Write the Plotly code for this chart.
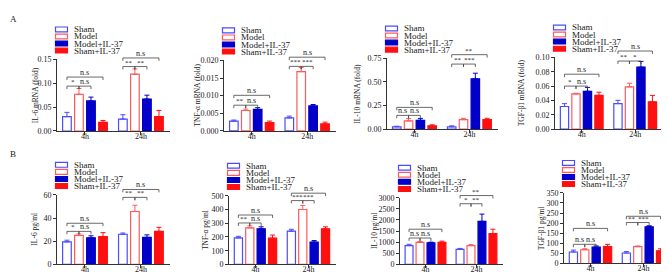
import plotly.graph_objects as go

# ---------------- data ----------------
groups = ["4h", "24h"]
series = ["Sham", "Model", "Model+IL-37", "Sham+IL-37"]

# each inner list = one series, values at [4h, 24h]
il6_mrna_mean = [[0.030, 0.025], [0.077, 0.119], [0.063, 0.067], [0.018, 0.030]]
il6_mrna_err = [[0.009, 0.009], [0.012, 0.011], [0.008, 0.008], [0.004, 0.013]]
tnf_mrna_mean = [[0.0028, 0.0037], [0.0058, 0.0168], [0.0061, 0.0071], [0.0024, 0.0020]]
tnf_mrna_err = [[0.0003, 0.0005], [0.0004, 0.0012], [0.0005, 0.0004], [0.0004, 0.0005]]
il10_mrna_mean = [[0.024, 0.024], [0.086, 0.100], [0.093, 0.534], [0.034, 0.100]]
il10_mrna_err = [[0.006, 0.010], [0.025, 0.014], [0.020, 0.059], [0.011, 0.014]]
tgf_mrna_mean = [[0.0315, 0.0356], [0.049, 0.059], [0.0527, 0.0865], [0.047, 0.038]]
tgf_mrna_err = [[0.004, 0.0045], [0.001, 0.005], [0.0055, 0.008], [0.0045, 0.009]]
il6_pg_mean = [[19.5, 26.0], [25.0, 45.6], [23.0, 23.3], [23.9, 28.5]]
il6_pg_err = [[1.4, 1.1], [1.3, 5.4], [1.7, 2.2], [3.5, 3.5]]
tnf_pg_mean = [[193, 242], [267, 400], [260, 163], [191, 260]]
tnf_pg_err = [[12, 14], [14, 30], [14, 11], [23, 14]]
il10_pg_mean = [[849, 679], [990, 849], [976, 1938], [990, 1386]]
il10_pg_err = [[56, 42], [43, 42], [28, 325], [57, 198]]
tgf_pg_mean = [[57, 52], [68, 84], [81, 182], [84, 63]]
tgf_pg_err = [[9.5, 7], [5, 3], [6, 5], [11, 10]]

y_titles = ["IL-6 mRNA (fold)", "TNF-α mRNA (fold)", "IL-10 mRNA (fold)", "TGF-β1 mRNA (fold)",
            "IL-6 pg/ml", "TNF-α pg/ml", "IL-10 pg/ml", "TGF-β1 pg/ml"]
y_max = [0.15, 0.020, 0.75, 0.10, 60, 500, 3000, 350]
y_dtick = [0.05, 0.005, 0.25, 0.02, 20, 100, 500, 50]
y_fmt = [".2f", ".3f", ".2f", ".2f", "d", "d", "d", "d"]

# significance brackets: (group index, series i, series j, level, label)
il6_mrna_sig = [(0, 0, 3, 0.113, "n.s"), (0, 0, 1, 0.094, "*"), (0, 1, 2, 0.094, "n.s"),
                (1, 0, 3, 0.153, "n.s"), (1, 0, 1, 0.135, "**"), (1, 1, 2, 0.135, "**")]
tnf_mrna_sig = [(0, 0, 3, 0.0101, "n.s"), (0, 0, 1, 0.0073, "**"), (0, 1, 2, 0.0073, "n.s"),
                (1, 0, 3, 0.0209, "n.s"), (1, 0, 1, 0.0183, "***"), (1, 1, 2, 0.0183, "***")]
il10_mrna_sig = [(0, 0, 3, 0.23, "n.s"), (0, 0, 1, 0.145, "n.s"), (0, 1, 2, 0.145, "n.s"),
                 (1, 0, 3, 0.79, "**"), (1, 0, 1, 0.69, "**"), (1, 1, 2, 0.69, "***")]
tgf_mrna_sig = [(0, 0, 3, 0.0766, "n.s"), (0, 0, 1, 0.060, "*"), (0, 1, 2, 0.060, "n.s"),
                (1, 0, 3, 0.109, "n.s"), (1, 0, 1, 0.095, "**"), (1, 1, 2, 0.095, "*")]
il6_pg_sig = [(0, 0, 3, 35.5, "n.s"), (0, 0, 1, 28.5, "*"), (0, 1, 2, 28.5, "n.s"),
              (1, 0, 3, 64.6, "n.s"), (1, 0, 1, 57.8, "**"), (1, 1, 2, 57.8, "**")]
tnf_pg_sig = [(0, 0, 3, 360, "n.s"), (0, 0, 1, 302, "**"), (0, 1, 2, 302, "n.s"),
              (1, 0, 3, 519, "n.s"), (1, 0, 1, 465, "***"), (1, 1, 2, 465, "***")]
il10_pg_sig = [(0, 0, 3, 1584, "n.s"), (0, 0, 1, 1188, "n.s"), (0, 1, 2, 1188, "n.s"),
               (1, 0, 3, 3097, "**"), (1, 0, 1, 2730, "*"), (1, 1, 2, 2730, "**")]
tgf_pg_sig = [(0, 0, 3, 174, "n.s"), (0, 0, 1, 95, "n.s"), (0, 1, 2, 95, "n.s"),
              (1, 0, 3, 234, "n.s"), (1, 0, 1, 203, "**"), (1, 1, 2, 203, "***")]

means = [il6_mrna_mean, tnf_mrna_mean, il10_mrna_mean, tgf_mrna_mean,
         il6_pg_mean, tnf_pg_mean, il10_pg_mean, tgf_pg_mean]
errs = [il6_mrna_err, tnf_mrna_err, il10_mrna_err, tgf_mrna_err,
        il6_pg_err, tnf_pg_err, il10_pg_err, tgf_pg_err]
sigs = [il6_mrna_sig, tnf_mrna_sig, il10_mrna_sig, tgf_mrna_sig,
        il6_pg_sig, tnf_pg_sig, il10_pg_sig, tgf_pg_sig]

# ---------------- layout / style ----------------
W, H = 669, 275
FONT = "Liberation Serif"
# panel plot boxes in pixels: (left, right, top, bottom)
boxes = [(49, 162, 49, 123), (216, 328, 50, 123), (379, 490, 48, 121), (547, 655, 47, 121),
         (49, 162, 189, 261), (221, 328, 190, 261), (392, 495, 192, 261), (556, 663, 187, 260)]
title_off = [22, 26, 29, 34, 22, 24, 26, 23]
line_cols = ["#4b4bff", "#ff5a5a", "#0000c8", "#ff1010"]
fill_cols = ["#ffffff", "#ffffff", "#0000c8", "#ff1010"]
BARGAP, BGG = 0.14, 0.28
XR = [-0.5, 1.52]
AXC = "#333333"

fig = go.Figure()
shapes, annots = [], []
layout = {}

for k in range(8):
    n = "" if k == 0 else str(k + 1)
    xa, ya = "x" + n, "y" + n
    x0, x1, yt, yb = boxes[k]
    for s in range(4):
        fig.add_trace(go.Bar(
            x=groups, y=means[k][s], name=series[s], xaxis=xa, yaxis=ya, showlegend=False,
            marker=dict(color=fill_cols[s], line=dict(color=line_cols[s], width=1.2)),
            error_y=dict(type="data", symmetric=False, array=errs[k][s], arrayminus=[0, 0],
                         color=line_cols[s], thickness=1, width=2.5)))
    layout["xaxis" + n] = dict(
        domain=[x0 / W, x1 / W], anchor=ya, range=XR, showline=True, linecolor=AXC, linewidth=1,
        ticks="outside", ticklen=3, tickcolor=AXC, showgrid=False, zeroline=False,
        ticklabelstandoff=-6,
        tickfont=dict(family=FONT, size=8, color="#222"))
    layout["yaxis" + n] = dict(
        domain=[1 - yb / H, 1 - yt / H], anchor=xa, range=[0, y_max[k]], dtick=y_dtick[k],
        tickformat=y_fmt[k], showline=True, linecolor=AXC, linewidth=1, ticks="outside",
        ticklen=3, tickcolor=AXC, showgrid=False, zeroline=False,
        tickfont=dict(family=FONT, size=8, color="#222"))
    # y-axis title
    annots.append(dict(x=(x0 - title_off[k]) / W, y=0.5, xref="paper", yref=ya + " domain",
                       text=y_titles[k], textangle=-90, showarrow=False,
                       xanchor="center", yanchor="middle",
                       font=dict(family=FONT, size=7.5, color="#222")))

    # brackets
    ph = yb - yt
    tl = 3.0 / ph

    def cx(g, s):
        c = g - (1 - BARGAP) / 2 + (s + 0.5) * (1 - BARGAP) / 4
        return (c - XR[0]) / (XR[1] - XR[0])

    for (g, i, j, lev, lab) in sigs[k]:
        fy = lev / y_max[k]
        xi, xj = cx(g, i), cx(g, j)
        ln = dict(color="#444", width=0.8)
        for (a0, b0, a1, b1) in [(xi, fy - tl, xi, fy), (xi, fy, xj, fy), (xj, fy, xj, fy - tl)]:
            shapes.append(dict(type="line", xref=xa + " domain", yref=ya + " domain",
                               x0=a0, y0=b0, x1=a1, y1=b1, line=ln))
        annots.append(dict(x=(xi + xj) / 2, y=fy, xref=xa + " domain", yref=ya + " domain",
                           text=lab, showarrow=False, yanchor="bottom", xanchor="center",
                           font=dict(family=FONT, size=8 if lab == "n.s" else 7, color="#222"),
                           yshift=-2))

    # legend drawn per panel
    for s in range(4):
        ry = yt - 31 + 7.3 * s
        shapes.append(dict(type="rect", xref="paper", yref="paper",
                           x0=(x0 - 1.5) / W, x1=(x0 + 10.5) / W,
                           y0=1 - (ry + 2.5) / H, y1=1 - (ry - 2.5) / H,
                           fillcolor=fill_cols[s], line=dict(color=line_cols[s], width=1.2)))
        annots.append(dict(x=(x0 + 15) / W, y=1 - ry / H, xref="paper", yref="paper",
                           text=series[s], showarrow=False, xanchor="left", yanchor="middle",
                           font=dict(family=FONT, size=9, color="#222")))

annots.append(dict(x=5 / W, y=1 - 7 / H, xref="paper", yref="paper", text="A", showarrow=False,
                   xanchor="center", yanchor="middle", font=dict(family=FONT, size=9, color="#222")))
annots.append(dict(x=5 / W, y=1 - 147 / H, xref="paper", yref="paper", text="B", showarrow=False,
                   xanchor="center", yanchor="middle", font=dict(family=FONT, size=9, color="#222")))

fig.update_layout(**layout)
fig.update_layout(
    width=W, height=H, margin=dict(l=0, r=0, t=0, b=0),
    paper_bgcolor="white", plot_bgcolor="white",
    barmode="group", bargap=BARGAP, bargroupgap=BGG,
    shapes=shapes, annotations=annots, showlegend=False,
    font=dict(family=FONT, color="#222"))

fig.write_html("out.html")
